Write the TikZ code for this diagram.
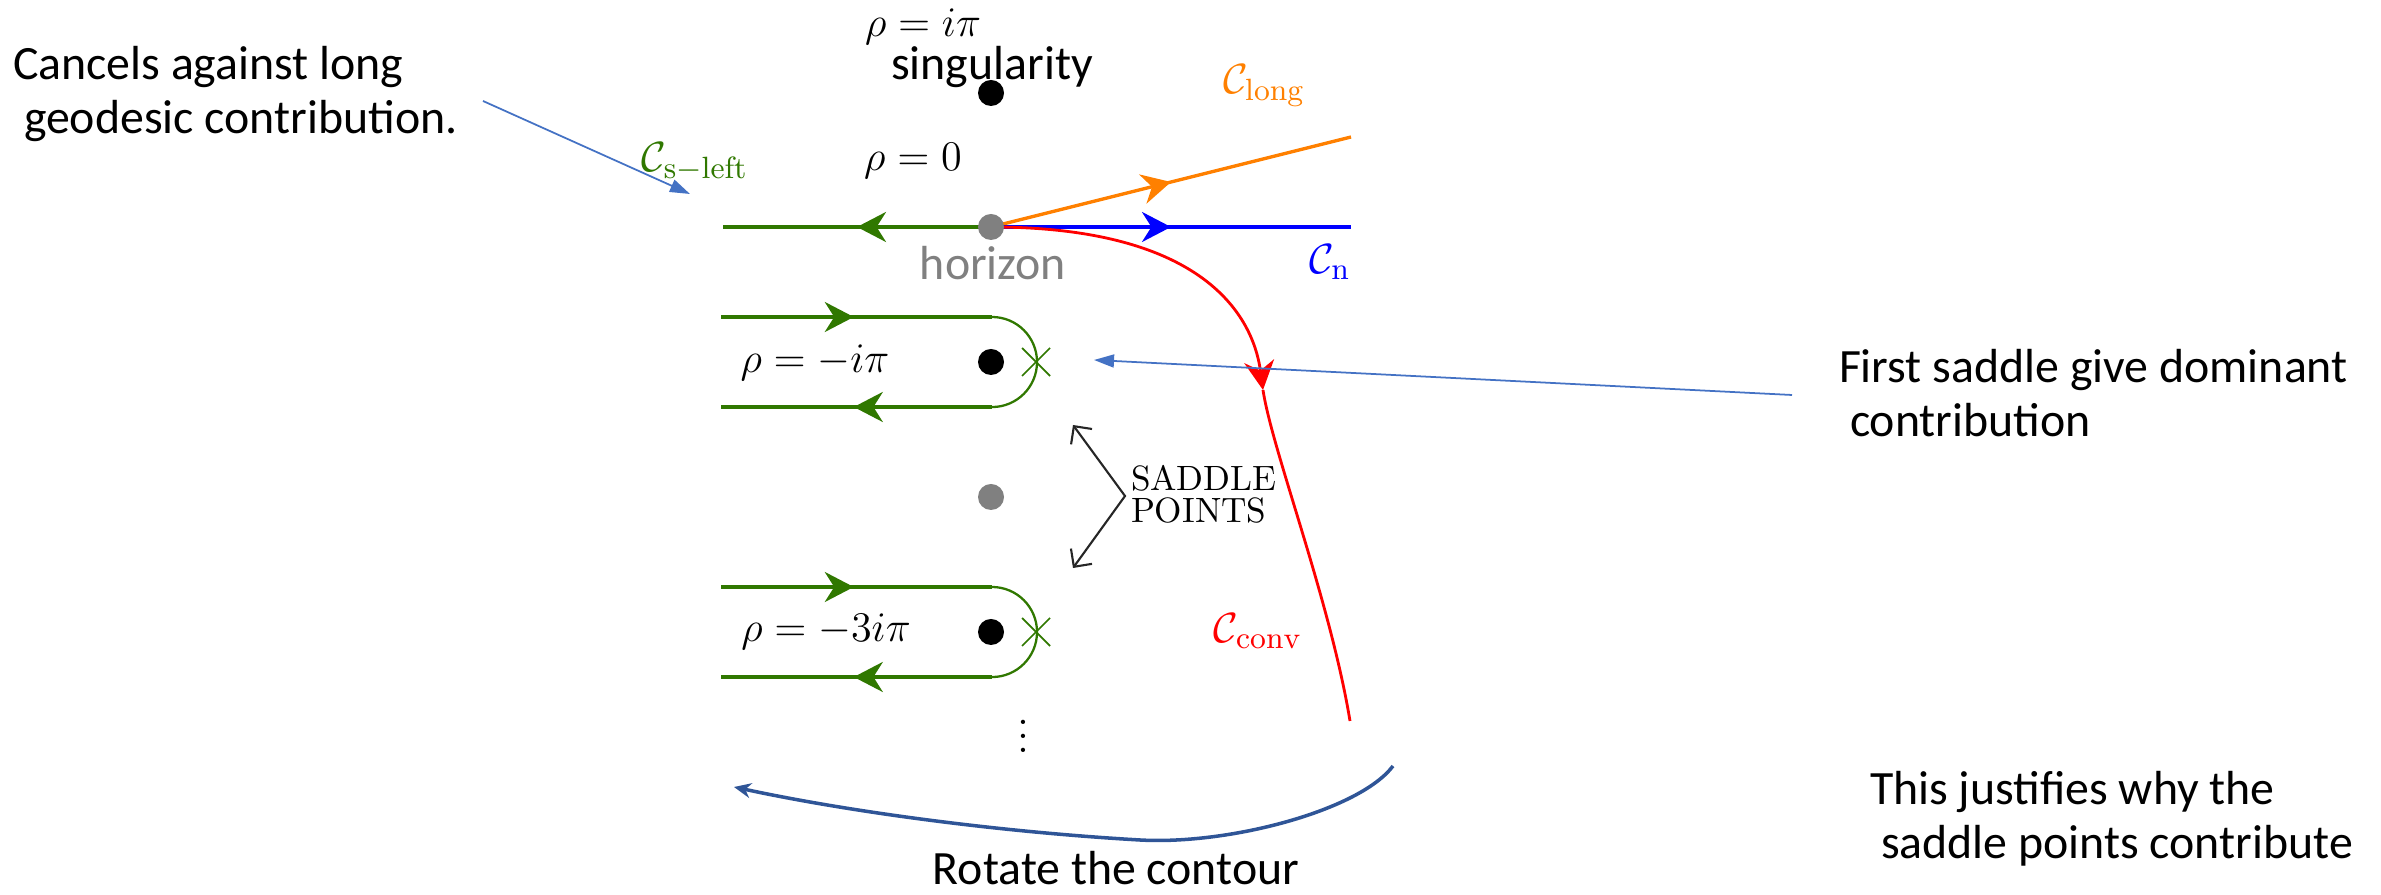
\documentclass[tikz,border=0pt]{standalone}
\usepackage{fontspec}
\newfontfamily\calibri{Carlito}
\usetikzlibrary{arrows.meta,decorations.markings}
\definecolor{cgreen}{RGB}{48,120,0}
\definecolor{corange}{RGB}{255,128,0}
\definecolor{hgray}{RGB}{128,128,128}
\definecolor{annblue}{RGB}{68,114,196}
\definecolor{rotblue}{RGB}{47,85,151}
\tikzset{
  every node/.style={inner sep=0pt,outer sep=0pt},
  mlabel/.style={font=\fontsize{12.5}{15}\selectfont},
  note/.style={font=\calibri\fontsize{13.6}{15.4}\selectfont,align=left},
  pdot/.style={circle,fill=black,minimum size=0.26cm},
  contour/.style={line width=0.95pt},
  midarrow/.style={postaction={decorate},decoration={markings,mark=at position #1 with {\arrow{Stealth[length=0.29cm,width=0.3cm]}}}},
  tiparrow/.style={-{Stealth[length=0.29cm,width=0.3cm]}},
  annot/.style={draw=annblue,line width=0.5pt,-{Triangle[length=0.2cm,width=0.13cm]}},
  crossmark/.style={cgreen,line width=0.5pt},
  loopend/.style={cgreen,line width=0.65pt},
}
\begin{document}
\begin{tikzpicture}[x=0.01cm,y=-0.01cm]
\useasboundingbox (0,0) rectangle (2381,895);

% real axis contours
\coordinate (hz) at (991,227);
\coordinate (gL) at (723,227);
\coordinate (oE) at (1351,137);
\coordinate (bE) at (1351,227);
\draw[contour,cgreen,midarrow=0.5] (hz) -- (gL);
\draw[contour,corange,midarrow=0.5] (hz) -- (oE);
\draw[contour,blue,midarrow=0.5] (hz) -- (bE);

% convergent contour
\coordinate (rA) at (1263,390);
\coordinate (rE) at (1350,721);
\draw[red,line width=0.8pt,tiparrow] (hz) .. controls (1220,227) and (1255,330) .. (rA);
\draw[red,line width=0.8pt] (rA) .. controls (1272,450) and (1330,600) .. (rE);

% loop 1
\coordinate (l1a) at (721,317);
\coordinate (l1b) at (992,317);
\coordinate (l1c) at (992,407);
\coordinate (l1d) at (721,407);
\draw[contour,cgreen,midarrow=0.49] (l1a) -- (l1b);
\draw[loopend] (l1b) arc[start angle=90,end angle=-90,x radius=0.45cm,y radius=0.45cm];
\draw[contour,cgreen,midarrow=0.51] (l1c) -- (l1d);
\coordinate (x1) at (1036,362);
\draw[crossmark] ([shift={(-14,-14)}]x1) -- ([shift={(14,14)}]x1)
                 ([shift={(-14,14)}]x1) -- ([shift={(14,-14)}]x1);

% loop 2
\coordinate (l2a) at (721,587);
\coordinate (l2b) at (992,587);
\coordinate (l2c) at (992,677);
\coordinate (l2d) at (721,677);
\draw[contour,cgreen,midarrow=0.49] (l2a) -- (l2b);
\draw[loopend] (l2b) arc[start angle=90,end angle=-90,x radius=0.45cm,y radius=0.45cm];
\draw[contour,cgreen,midarrow=0.51] (l2c) -- (l2d);
\coordinate (x2) at (1036,632);
\draw[crossmark] ([shift={(-14,-14)}]x2) -- ([shift={(14,14)}]x2)
                 ([shift={(-14,14)}]x2) -- ([shift={(14,-14)}]x2);

% dots
\node[pdot] (sing) at (991,93) {};
\node[pdot,fill=hgray] (hor) at (hz) {};
\node[pdot] (p1) at (991,362) {};
\node[pdot,fill=hgray] (p2) at (991,497) {};
\node[pdot] (p3) at (991,632) {};

% math labels
\node[mlabel] (tipi) at (923,27) {$\rho = i\pi$};
\node[note] (tsing) at (992,67) {singularity};
\node[mlabel] (tzero) at (913,161) {$\rho = 0$};
\node[note,text=hgray] (thor) at (993,263) {horizon};
\node[mlabel,text=cgreen] (tsl) at (695,162) {$\mathcal{C}_{\mathrm{s-left}}$};
\node[mlabel,text=corange] (tlong) at (1264,86) {$\mathcal{C}_{\mathrm{long}}$};
\node[mlabel,text=blue] (tn) at (1330,262) {$\mathcal{C}_{\mathrm{n}}$};
\node[mlabel,text=red] (tconv) at (1258,631) {$\mathcal{C}_{\mathrm{conv}}$};
\node[mlabel] (tm1) at (815,363) {$\rho = -i\pi$};
\node[mlabel] (tm3) at (826,632) {$\rho = -3i\pi$};
\node[mlabel] (tdots) at (1023,726) {$\vdots$};

% saddle points
\coordinate (sv) at (1125,496);
\coordinate (su) at (1073,425);
\coordinate (sd) at (1073,568);
\draw[black!85,line width=0.6pt,{Straight Barb[length=0.13cm,width=0.26cm]}-{Straight Barb[length=0.13cm,width=0.26cm]}] (su) -- (sv) -- (sd);
\node[anchor=west,align=left,font=\fontsize{10}{9.1}\selectfont] (spt) at (1131,494) {SADDLE\\POINTS};

% annotations
\node[note,anchor=north west] (n1) at (13,46) {Cancels against long\\\hspace*{0.11cm}geodesic contribution.};
\coordinate (a1s) at (483,101);
\coordinate (a1e) at (690,194);
\draw[annot] (a1s) -- (a1e);

\node[note,anchor=north west] (n2) at (1839,349) {First saddle give dominant\\\hspace*{0.11cm}contribution};
\coordinate (a2s) at (1792,395);
\coordinate (a2e) at (1094,360);
\draw[annot] (a2s) -- (a2e);

\node[note,anchor=north west] (n3) at (1870,771) {This justifies why the\\\hspace*{0.11cm}saddle points contribute};

\node[note,anchor=base] (n4) at (1116,885) {Rotate the contour};
\coordinate (rs) at (1393,766);
\coordinate (rb) at (1140,840);
\coordinate (rt) at (734,787);
\draw[rotblue,line width=1pt,-{Stealth[length=0.17cm,width=0.15cm]}] (rs) .. controls (1360,810) and (1230,845) .. (rb) .. controls (1000,832) and (850,812) .. (rt);
\end{tikzpicture}
\end{document}
